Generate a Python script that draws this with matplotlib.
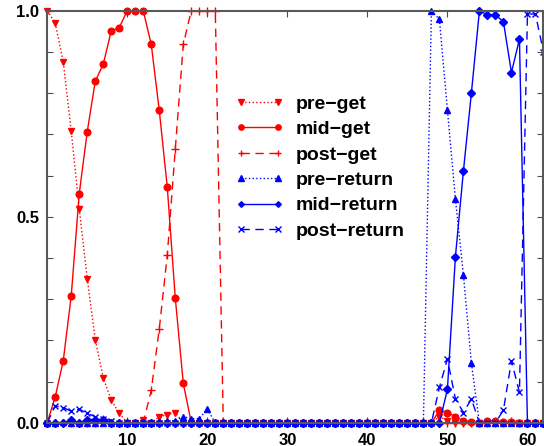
import matplotlib

matplotlib.use("Agg")
import matplotlib.pyplot as plt
from matplotlib.ticker import MultipleLocator

frames = list(range(63))

pre_get = [
    1.0, 0.97, 0.876, 0.708, 0.52, 0.35, 0.202, 0.109, 0.055, 0.023,
    0.0, 0.0, 0.008, 0.0, 0.015, 0.02, 0.025, 0.0, 0.0, 0.0,
    0.0, 0.0, 0.0, 0.0, 0.0, 0.0, 0.0, 0.0, 0.0, 0.0,
    0.0, 0.0, 0.0, 0.0, 0.0, 0.0, 0.0, 0.0, 0.0, 0.0,
    0.0, 0.0, 0.0, 0.0, 0.0, 0.0, 0.0, 0.0, 0.0, 0.015,
    0.005, 0.0, 0.0, 0.0, 0.0, 0.0, 0.0, 0.0, 0.0, 0.0,
    0.0, 0.0, 0.0,
]
mid_get = [
    0.0, 0.063, 0.15, 0.308, 0.556, 0.706, 0.829, 0.87, 0.951, 0.959,
    1.0, 1.0, 1.0, 0.918, 0.758, 0.572, 0.303, 0.096, 0.0, 0.0,
    0.0, 0.0, 0.0, 0.0, 0.0, 0.0, 0.0, 0.0, 0.0, 0.0,
    0.0, 0.0, 0.0, 0.0, 0.0, 0.0, 0.0, 0.0, 0.0, 0.0,
    0.0, 0.0, 0.0, 0.0, 0.0, 0.0, 0.0, 0.0, 0.0, 0.03,
    0.025, 0.015, 0.005, 0.003, 0.0, 0.005, 0.005, 0.002, 0.002, 0.0,
    0.0, 0.0, 0.0,
]
post_get = [
    0.0, 0.0, 0.0, 0.0, 0.0, 0.0, 0.0, 0.01, 0.0, 0.0,
    0.0, 0.0, 0.0, 0.079, 0.228, 0.407, 0.664, 0.918, 1.0, 1.0,
    1.0, 1.0, 0.0, 0.0, 0.0, 0.0, 0.0, 0.0, 0.0, 0.0,
    0.0, 0.0, 0.0, 0.0, 0.0, 0.0, 0.0, 0.0, 0.0, 0.0,
    0.0, 0.0, 0.0, 0.0, 0.0, 0.0, 0.0, 0.0, 0.0, 0.0,
    0.0, 0.0, 0.0, 0.0, 0.0, 0.0, 0.0, 0.0, 0.005, 0.0,
    0.0, 0.0, 0.0,
]
pre_return = [
    0.0, 0.0, 0.002, 0.0, 0.0, 0.0, 0.0, 0.0, 0.0, 0.0,
    0.0, 0.0, 0.0, 0.0, 0.003, 0.005, 0.005, 0.015, 0.01, 0.01,
    0.033, 0.0, 0.0, 0.0, 0.0, 0.0, 0.0, 0.0, 0.0, 0.0,
    0.0, 0.0, 0.0, 0.0, 0.0, 0.0, 0.0, 0.0, 0.0, 0.0,
    0.0, 0.0, 0.0, 0.0, 0.0, 0.0, 0.0, 0.0, 1.0, 0.979,
    0.759, 0.543, 0.359, 0.144, 0.0, 0.0, 0.0, 0.0, 0.0, 0.0,
    0.0, 0.0, 0.0,
]
mid_return = [
    0.0, 0.0, 0.0, 0.007, 0.0, 0.008, 0.008, 0.008, 0.0, 0.0,
    0.0, 0.0, 0.0, 0.0, 0.0, 0.0, 0.0, 0.0, 0.0, 0.0,
    0.0, 0.0, 0.0, 0.0, 0.0, 0.0, 0.0, 0.0, 0.0, 0.0,
    0.0, 0.0, 0.0, 0.0, 0.0, 0.0, 0.0, 0.0, 0.0, 0.0,
    0.0, 0.0, 0.0, 0.0, 0.0, 0.0, 0.0, 0.0, 0.0, 0.0,
    0.081, 0.403, 0.611, 0.801, 1.0, 0.99, 0.99, 0.973, 0.85, 0.931,
    0.0, 0.0, 0.0,
]
post_return = [
    0.0, 0.041, 0.037, 0.028, 0.033, 0.023, 0.015, 0.01, 0.005, 0.0,
    0.0, 0.0, 0.0, 0.0, 0.0, 0.0, 0.0, 0.0, 0.0, 0.0,
    0.0, 0.0, 0.0, 0.0, 0.0, 0.0, 0.0, 0.0, 0.0, 0.0,
    0.0, 0.0, 0.0, 0.0, 0.0, 0.0, 0.0, 0.0, 0.0, 0.0,
    0.0, 0.0, 0.0, 0.0, 0.0, 0.0, 0.0, 0.0, 0.0, 0.086,
    0.155, 0.058, 0.025, 0.058, 0.0, 0.0, 0.0, 0.031, 0.15, 0.074,
    0.992, 0.992, 0.90,
]

x_ticks = [10, 20, 30, 40, 50, 60]
y_ticks = [0.0, 0.5, 1.0]


def main():
    plt.rcParams["font.family"] = ["Liberation Sans", "DejaVu Sans"]
    plt.rcParams["font.weight"] = "bold"

    fig = plt.figure(figsize=(5.44, 4.46), dpi=100)
    ax = fig.add_axes([0.0868, 0.052, 0.9122, 0.924])

    red = "#ff0000"
    blue = "#0000ff"
    series = [
        (pre_get, red, ":", "v", 5, "pre\u2212get"),
        (mid_get, red, "-", "o", 4.8, "mid\u2212get"),
        (post_get, red, (0, (6, 4)), "+", 6, "post\u2212get"),
        (pre_return, blue, ":", "^", 5, "pre\u2212return"),
        (mid_return, blue, "-", "D", 3.6, "mid\u2212return"),
        (post_return, blue, (0, (6, 4)), "x", 4.8, "post\u2212return"),
    ]
    for values, color, style, marker, size, label in series:
        ax.plot(
            frames,
            values,
            color=color,
            linestyle=style,
            linewidth=1.0,
            marker=marker,
            markersize=size,
            markeredgewidth=1.0,
            clip_on=False,
            label=label,
        )

    ax.set_xlim(0, 62)
    ax.set_ylim(0, 1)
    ax.set_xticks(x_ticks)
    ax.set_yticks(y_ticks)
    ax.set_yticklabels([f"{v:.1f}" for v in y_ticks])
    ax.yaxis.set_minor_locator(MultipleLocator(0.1))
    ax.tick_params(which="both", direction="in", top=True, right=True,
                   length=4, width=0.8, color="0.3", labelsize=12)
    ax.tick_params(axis="x", pad=7)
    ax.tick_params(axis="y", pad=6)
    for spine in ax.spines.values():
        spine.set_color("0.35")
        spine.set_linewidth(1.5)

    ax.legend(
        loc="upper left",
        bbox_to_anchor=(0.379, 0.795),
        frameon=False,
        numpoints=2,
        markerscale=0.8,
        handlelength=2.5,
        handletextpad=0.62,
        labelspacing=0.4,
        borderpad=0,
        borderaxespad=0,
        prop={"size": 14, "weight": "bold"},
    )

    fig.savefig("out.png", dpi=100)
    plt.close(fig)


if __name__ == "__main__":
    main()
